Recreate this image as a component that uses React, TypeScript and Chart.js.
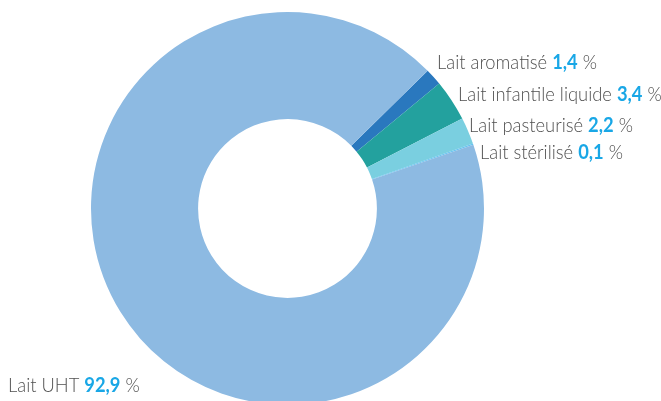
import React, { useEffect, useRef } from "react";
import { Chart, registerables } from "chart.js";

Chart.register(...registerables);

const categories = ["Lait aromatisé", "Lait infantile liquide", "Lait pasteurisé", "Lait stérilisé", "Lait UHT"];
const values = [1.4, 3.4, 2.2, 0.1, 92.9];
const valueLabels = ["1,4", "3,4", "2,2", "0,1", "92,9"];
const colors = ["#2A78BE", "#23A19E", "#7ACFE0", "#66C3F0", "#8DBAE2"];

// label anchors (left x, baseline y)
const labelPos = [
  [437, 69],
  [458, 101],
  [469, 132],
  [480, 159],
  [8, 392],
];

const FONT = 'Lato, "Liberation Sans", sans-serif';
const FS = 20;
const REF_WIDTH = 160; // width of first label in the picture

const labelPlugin = {
  id: "outerLabels",
  afterDraw(chart: any) {
    const ctx = chart.ctx;
    // compute horizontal squeeze
    const measure = (i: number) => {
      ctx.font = `300 ${FS}px ${FONT}`;
      let w = ctx.measureText(categories[i] + " ").width + ctx.measureText(" %").width;
      ctx.font = `bold ${FS}px ${FONT}`;
      w += ctx.measureText(valueLabels[i]).width;
      return w;
    };
    const sx = Math.min(1, REF_WIDTH / measure(0));
    categories.forEach((c, i) => {
      const [x0, y] = labelPos[i];
      ctx.save();
      ctx.translate(x0, y);
      ctx.scale(sx, 1);
      ctx.textBaseline = "alphabetic";
      ctx.textAlign = "left";
      let x = 0;
      ctx.font = `300 ${FS}px ${FONT}`;
      ctx.fillStyle = "#505050";
      ctx.fillText(c + " ", x, 0);
      x += ctx.measureText(c + " ").width;
      ctx.font = `bold ${FS}px ${FONT}`;
      ctx.fillStyle = "#19A7E6";
      ctx.fillText(valueLabels[i], x, 0);
      x += ctx.measureText(valueLabels[i]).width;
      ctx.font = `300 ${FS}px ${FONT}`;
      ctx.fillStyle = "#505050";
      ctx.fillText(" %", x, 0);
      ctx.restore();
    });
  },
};

export default function App() {
  const ref = useRef<HTMLCanvasElement>(null);
  useEffect(() => {
    document.body.style.margin = "0";
    const chart = new Chart(ref.current!, {
      type: "doughnut",
      data: {
        labels: categories,
        datasets: [
          {
            data: values,
            backgroundColor: colors,
            borderWidth: 0,
          },
        ],
      },
      options: {
        responsive: false,
        animation: false,
        rotation: 45.5,
        cutout: "45.5%",
        layout: { padding: { top: 12, bottom: 15, left: 91, right: 177 } },
        plugins: { legend: { display: false }, tooltip: { enabled: false } },
      },
      plugins: [labelPlugin],
    });
    return () => chart.destroy();
  }, []);
  return (
    <div style={{ width: 661, height: 401, overflow: "hidden", background: "#fff" }}>
      <canvas ref={ref} width={661} height={420} style={{ display: "block" }} />
    </div>
  );
}
